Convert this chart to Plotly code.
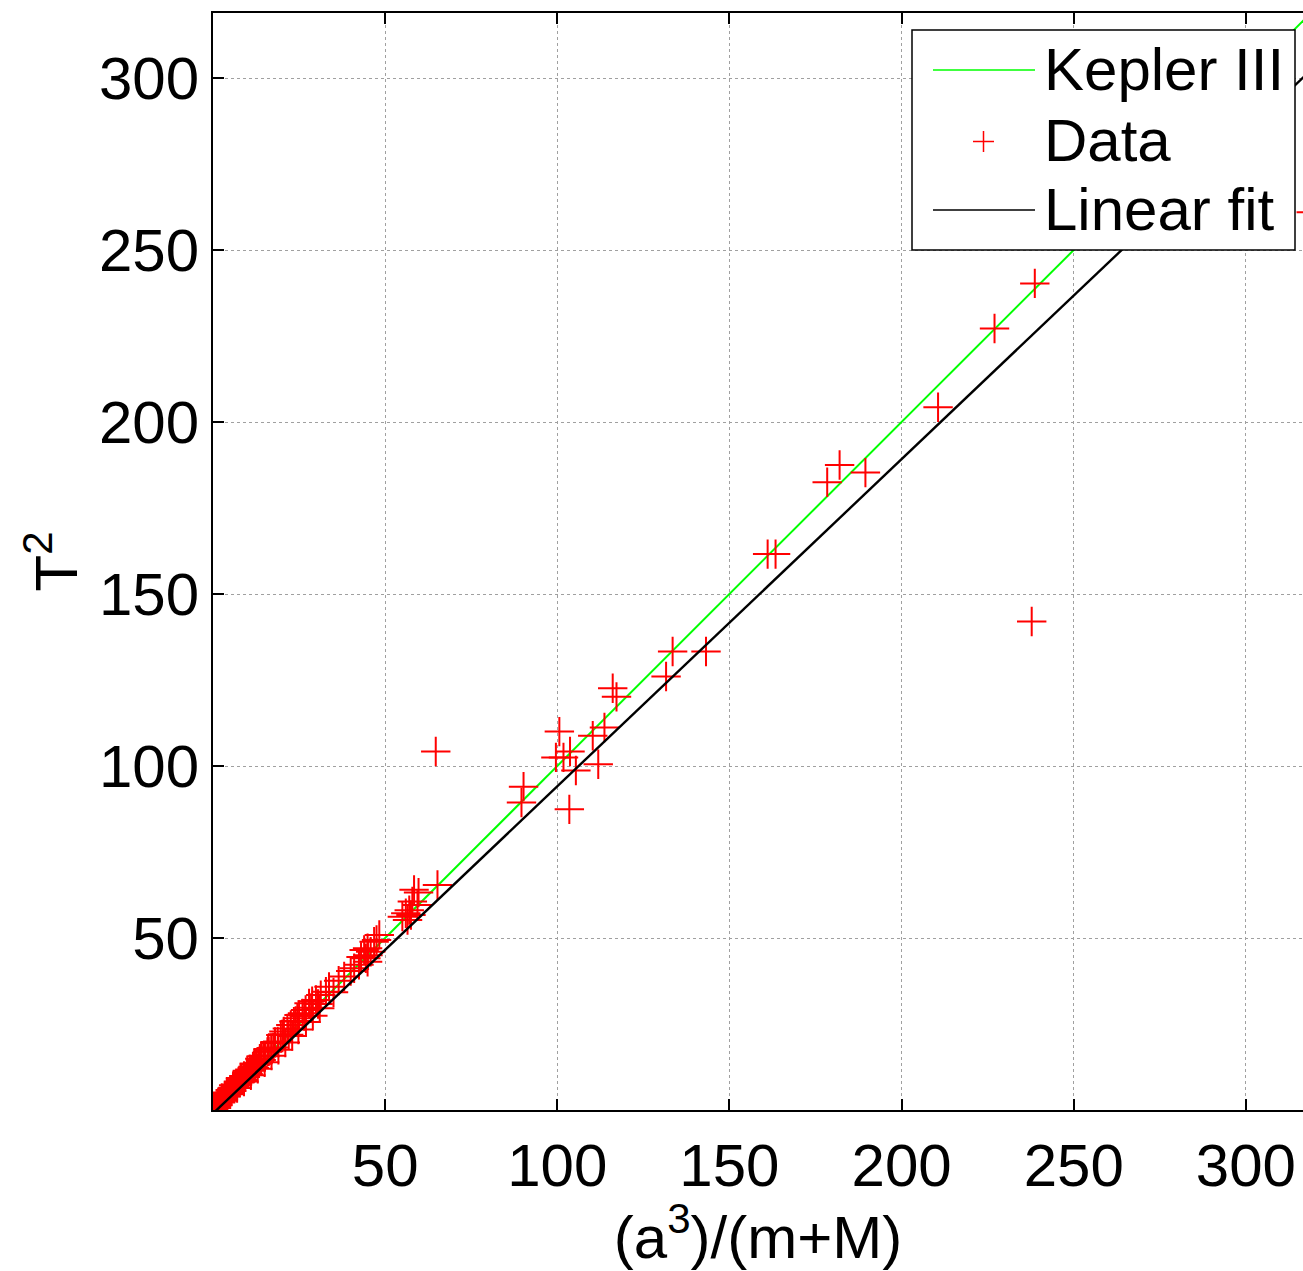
import plotly.graph_objects as go

# ---- data ----
data_x = [
    238.7, 227.0, 210.6, 182.0, 178.4, 189.5, 161.1, 163.4, 237.8, 143.2,
    133.5, 131.6, 116.1, 117.2, 113.7, 110.3, 100.6, 111.9, 105.4, 103.5,
    99.6, 101.8, 103.7, 90.2, 89.6, 64.7, 319.0,
    65.2, 58.4, 59.7, 57.9, 59.4, 57.0, 56.0, 55.0, 57.5, 56.5,
    48.3, 46.8, 44.9, 45.8, 44.4, 45.0, 43.9, 44.9, 41.0, 42.4,
    38.1, 33.7, 32.8, 31.3, 29.9, 27.9, 26.9, 26.0, 25.0, 24.5,
    23.5, 22.6, 21.6, 20.6, 19.7,
    18.8, 18.0, 17.5, 16.9, 16.2, 15.8, 15.1, 14.6, 14.0, 13.6,
    13.1, 12.5, 12.0, 11.6, 11.1, 10.7, 10.2, 9.8, 9.4, 9.0,
    8.6, 8.2, 7.8, 7.4, 7.0, 6.6, 6.2, 5.8, 5.4, 5.0,
    4.6, 4.2, 3.8, 3.4, 3.0, 2.6, 2.2, 1.8, 1.4, 1.0,
    0.6, 0.3, 0.1,
    19.0, 17.0, 15.0, 13.0, 11.0, 9.0, 7.0, 5.0, 3.0, 21.0,
    23.0, 24.8, 27.0, 29.0, 31.0, 22.0, 26.5, 28.5, 30.5, 35.0,
    36.5, 40.0, 43.0, 47.5, 28.8, 24.0, 20.2,
    1.5, 2.5, 4.0, 6.0, 8.0, 10.0, 12.0, 14.0, 16.0, 18.0,
]
data_y = [
    240.3, 227.2, 204.3, 187.5, 182.5, 185.3, 161.6, 161.6, 142.0, 133.3,
    133.3, 126.0, 122.6, 120.1, 111.2, 108.8, 110.0, 100.5, 98.7, 87.4,
    102.5, 102.5, 104.2, 94.0, 89.4, 104.2, 261.0,
    65.4, 64.0, 63.2, 60.6, 59.6, 58.1, 57.2, 56.2, 56.7, 55.2,
    50.9, 48.9, 47.0, 46.0, 44.1, 45.0, 46.5, 43.1, 41.2, 42.2,
    38.8, 35.8, 34.4, 33.4, 32.0, 31.0, 29.1, 28.1, 27.6, 26.7,
    25.7, 24.7, 23.7, 22.8, 21.8,
    19.9, 19.5, 18.2, 18.0, 17.1, 16.9, 15.6, 15.8, 14.5, 14.9,
    13.6, 13.4, 12.2, 12.6, 11.4, 11.8, 10.5, 10.9, 9.6, 9.9,
    8.7, 9.1, 8.0, 8.3, 7.1, 7.4, 6.4, 6.5, 5.5, 5.8,
    4.7, 4.9, 3.9, 4.0, 3.0, 3.2, 2.2, 2.3, 1.4, 1.2,
    0.6, 0.4, 0.1,
    17.5, 15.8, 13.9, 12.0, 10.1, 8.3, 6.4, 4.6, 2.7, 19.6,
    21.5, 23.4, 25.6, 27.4, 29.6, 21.9, 27.3, 29.7, 30.8, 34.2,
    37.6, 40.4, 44.5, 49.4, 31.6, 25.9, 22.0,
    2.3, 3.4, 5.1, 7.2, 9.3, 11.4, 13.5, 15.6, 17.7, 19.8,
]

kepler_x = [0, 330]
kepler_y = [0, 330]

fit_slope = 0.951
fit_intercept = -1.0
fit_x = [0, 330]
fit_y = [fit_slope * v + fit_intercept for v in fit_x]

tick_vals = [50, 100, 150, 200, 250, 300]
tick_text = ["50", "100", "150", "200", "250", "300"]

legend_labels = ["Kepler III", "Data", "Linear fit"]

FONT = "Liberation Sans, Arial, sans-serif"
FS = 60

fig = go.Figure()
fig.add_trace(go.Scatter(x=kepler_x, y=kepler_y, mode="lines",
                         line=dict(color="#00ff00", width=2), showlegend=False))
fig.add_trace(go.Scatter(x=data_x, y=data_y, mode="markers",
                         marker=dict(symbol="cross-thin", size=21,
                                     line=dict(color="#ff0000", width=2)),
                         showlegend=False))
fig.add_trace(go.Scatter(x=fit_x, y=fit_y, mode="lines",
                         line=dict(color="#000000", width=2.4), showlegend=False))

# ---- manual legend (MATLAB style) ----
W, H = 1303, 1271
L, R, T, B = 213, 0, 13, 161
pw = W - L - R
ph = H - T - B


def px(x):
    return (x - L) / pw


def py(y):
    return (H - B - y) / ph


shapes = [
    dict(type="rect", xref="paper", yref="paper", x0=px(912), x1=px(1295),
         y0=py(250), y1=py(30), fillcolor="white",
         line=dict(color="black", width=1.5), layer="above"),
    dict(type="line", xref="paper", yref="paper", x0=px(933), x1=px(1035),
         y0=py(70), y1=py(70), line=dict(color="#00ff00", width=1.5), layer="above"),
    dict(type="line", xref="paper", yref="paper", x0=px(973), x1=px(994),
         y0=py(141.5), y1=py(141.5), line=dict(color="#ff0000", width=1.5), layer="above"),
    dict(type="line", xref="paper", yref="paper", x0=px(983.5), x1=px(983.5),
         y0=py(131), y1=py(152), line=dict(color="#ff0000", width=1.5), layer="above"),
    dict(type="line", xref="paper", yref="paper", x0=px(933), x1=px(1035),
         y0=py(210), y1=py(210), line=dict(color="black", width=1.5), layer="above"),
]
annotations = []
for lab, yy in zip(legend_labels, [70, 141, 210]):
    annotations.append(dict(text=lab, xref="paper", yref="paper", x=px(1042), y=py(yy),
                            xanchor="left", yanchor="middle", showarrow=False,
                            font=dict(family=FONT, size=FS, color="black")))

fig.update_layout(
    width=W, height=H,
    margin=dict(l=L, r=R, t=T, b=B, pad=0),
    paper_bgcolor="white", plot_bgcolor="white",
    font=dict(family=FONT, size=FS, color="black"),
    shapes=shapes, annotations=annotations,
    showlegend=False,
)
fig.update_xaxes(
    range=[0, 316.6], tickvals=tick_vals, ticktext=tick_text,
    showline=True, linecolor="black", linewidth=2, mirror="ticks",
    ticks="inside", ticklen=11, tickwidth=2, tickcolor="black",
    showgrid=True, gridcolor="#a0a0a0", griddash="dot", gridwidth=1,
    zeroline=False, tickfont=dict(family=FONT, size=FS, color="black"),
    ticklabelstandoff=2,
    title=dict(text="(a<sup>3</sup>)/(m+M)", font=dict(family=FONT, size=FS), standoff=14),
)
fig.update_yaxes(
    range=[0, 318.9], tickvals=tick_vals, ticktext=tick_text,
    showline=True, linecolor="black", linewidth=2, mirror=False,
    ticks="inside", ticklen=11, tickwidth=2, tickcolor="black",
    showgrid=True, gridcolor="#a0a0a0", griddash="dot", gridwidth=1,
    zeroline=False, tickfont=dict(family=FONT, size=FS, color="black"),
    title=dict(text="T<sup>2</sup>", font=dict(family=FONT, size=FS), standoff=2),
)

fig.write_html("out.html")
